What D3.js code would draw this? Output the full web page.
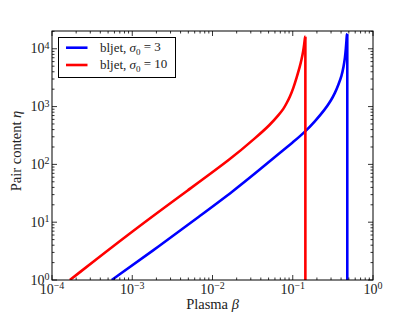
<!DOCTYPE html>
<html><head><meta charset="utf-8">
<script src="https://cdn.jsdelivr.net/npm/d3@7"></script>
<style>
body{margin:0;background:#fff}
text{font-family:"Liberation Serif","DejaVu Serif",serif;fill:#222}
</style>
</head><body><svg id="c" width="415" height="312"></svg>
<script>
// ---- data ----
const seriesLabels = ["bljet, ", "bljet, "];
const sigma0Values = ["3", "10"];
const betaBlue = [5.55e-4, 2.2e-3, 7e-3, 1.8e-2, 4e-2, 7e-2, 0.1, 0.142, 0.19, 0.25, 0.3, 0.336, 0.37, 0.407, 0.43, 0.448, 0.46, 0.468, 0.473];
const etaBlue  = [1, 3.9, 12.9, 34, 84, 160, 240, 365, 560, 880, 1280, 1720, 2380, 3400, 4900, 7000, 10300, 14500, 18000];
const betaRed  = [1.67e-4, 1e-3, 5.25e-3, 1.73e-2, 3.56e-2, 5.2e-2, 6.93e-2, 7.62e-2, 8.41e-2, 9.25e-2, 0.1016, 0.112, 0.123, 0.129, 0.135, 0.139, 0.1425];
const etaRed   = [1, 7.0, 38, 127, 301, 481, 766, 900, 1150, 1500, 2073, 3200, 5000, 6600, 9000, 12000, 16200];
const cutoffBeta = [0.478, 0.1436];
const xTickExps = [-4, -3, -2, -1, 0];
const yTickExps = [0, 1, 2, 3, 4];
const xDomain = [1e-4, 1];
const yDomain = [1, 2.03e4];

// ---- layout / style ----
const colors = ["#0000ff", "#ff0000"];
const M = {left: 52, right: 373, top: 31, bottom: 280};
const svg = d3.select("#c");
const x = d3.scaleLog().domain(xDomain).range([M.left, M.right]);
const y = d3.scaleLog().domain(yDomain).range([M.bottom, M.top]);

const series = [
  {beta: betaBlue, eta: etaBlue, cut: cutoffBeta[0]},
  {beta: betaRed, eta: etaRed, cut: cutoffBeta[1]}
];

svg.append("clipPath").attr("id","clip").append("rect")
  .attr("x", M.left).attr("y", M.top).attr("width", M.right-M.left).attr("height", M.bottom-M.top);
const lines = svg.append("g").attr("clip-path","url(#clip)");
const lineGen = d3.line().x(d=>x(d[0])).y(d=>y(d[1])).curve(d3.curveBasis);
series.forEach((s,i)=>{
  const pts = s.beta.map((b,j)=>[b, s.eta[j]]);
  const last = pts[pts.length-1];
  pts.push([s.cut, last[1]]);
  lines.append("path").attr("d", lineGen(pts))
    .attr("fill","none").attr("stroke",colors[i]).attr("stroke-width",2.6).attr("stroke-linejoin","round");
  lines.append("line")
    .attr("x1", x(s.cut)).attr("x2", x(s.cut))
    .attr("y1", y(last[1])).attr("y2", y(yDomain[0]))
    .attr("stroke",colors[i]).attr("stroke-width",2.6);
});

// ---- axes (classic matplotlib: ticks inward on all sides) ----
function minorVals(exps){
  const out=[];
  exps.forEach(e=>{ for(let m=2;m<=9;m++) out.push(m*Math.pow(10,e)); });
  return out;
}
const axG = svg.append("g");
const major = 5, minor = 2.5;
const xMaj = xTickExps.map(e=>Math.pow(10,e));
const yMaj = yTickExps.map(e=>Math.pow(10,e));
const xMin = minorVals(xTickExps.slice(0,-1));
const yMin = minorVals(yTickExps).filter(v=>v<=yDomain[1]);
function tick(x1,y1,x2,y2){axG.append("line").attr("x1",x1).attr("y1",y1).attr("x2",x2).attr("y2",y2).attr("stroke","#000").attr("stroke-width",0.8);}
xMaj.forEach(v=>{const p=x(v);tick(p,M.bottom,p,M.bottom-major);tick(p,M.top,p,M.top+major);});
xMin.forEach(v=>{const p=x(v);tick(p,M.bottom,p,M.bottom-minor);tick(p,M.top,p,M.top+minor);});
yMaj.forEach(v=>{const p=y(v);tick(M.left,p,M.left+major,p);tick(M.right,p,M.right-major,p);});
yMin.forEach(v=>{const p=y(v);tick(M.left,p,M.left+minor,p);tick(M.right,p,M.right-minor,p);});

axG.append("rect").attr("x",M.left).attr("y",M.top).attr("width",M.right-M.left).attr("height",M.bottom-M.top)
  .attr("fill","none").attr("stroke","#000").attr("stroke-width",1);

function expLabel(sel, e){
  sel.append("tspan").text("10");
  sel.append("tspan").attr("dy","-0.45em").attr("font-size","10px").text(e<0 ? "\u2212"+(-e) : String(e));
}
xTickExps.forEach(e=>{
  const t = svg.append("text").attr("x", x(Math.pow(10,e))).attr("y", 293.5)
    .attr("text-anchor","middle").attr("font-size","14px");
  expLabel(t,e);
});
yTickExps.forEach(e=>{
  const t = svg.append("text").attr("x", M.left-2.5).attr("y", y(Math.pow(10,e))+4.5)
    .attr("text-anchor","end").attr("font-size","14px");
  expLabel(t,e);
});

// axis titles
const xt = svg.append("text").attr("x",(M.left+M.right)/2).attr("y",309).attr("text-anchor","middle").attr("font-size","14.5px");
xt.append("tspan").text("Plasma ");
xt.append("tspan").attr("font-style","italic").text("β");
const yt = svg.append("text").attr("transform",`translate(21,151) rotate(-90)`).attr("text-anchor","middle").attr("font-size","14.5px");
yt.append("tspan").text("Pair content ");
yt.append("tspan").attr("font-style","italic").text("η");

// legend
const lg = svg.append("g");
lg.append("rect").attr("x",58.5).attr("y",37.5).attr("width",117).attr("height",40)
  .attr("fill","#fff").attr("stroke","#000").attr("stroke-width",1);
[0,1].forEach(i=>{
  const yy = 47.7 + i*17.3;
  lg.append("line").attr("x1",66).attr("x2",87.5).attr("y1",yy).attr("y2",yy)
    .attr("stroke",colors[i]).attr("stroke-width",2.6);
  const t = lg.append("text").attr("x",100).attr("y",yy+4.3).attr("font-size","13px");
  t.append("tspan").text(seriesLabels[i]);
  t.append("tspan").attr("font-style","italic").text("σ");
  t.append("tspan").attr("dy","0.3em").attr("font-size","9px").text("0");
  t.append("tspan").attr("dy","-0.3em").text(" = " + sigma0Values[i]);
});
</script>
</body></html>
